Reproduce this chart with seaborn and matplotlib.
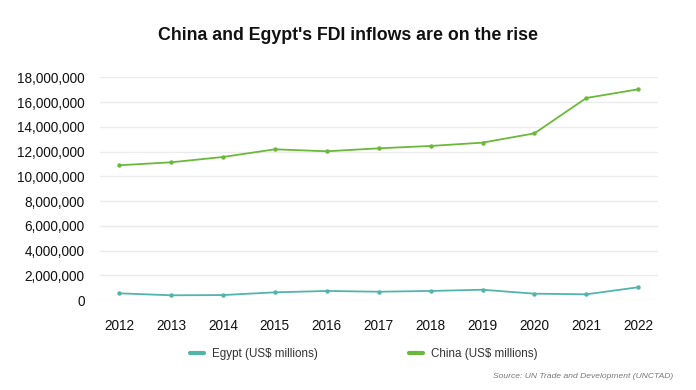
import matplotlib
matplotlib.use("Agg")
import matplotlib.pyplot as plt
import seaborn as sns
import pandas as pd
from matplotlib.ticker import FuncFormatter, MultipleLocator
from matplotlib.lines import Line2D

years = [2012, 2013, 2014, 2015, 2016, 2017, 2018, 2019, 2020, 2021, 2022]
egypt = [540000, 380000, 400000, 620000, 730000, 670000, 730000, 830000, 510000, 460000, 1030000]
china = [10890000, 11130000, 11560000, 12180000, 12020000, 12260000, 12450000, 12720000, 13470000, 16330000, 17030000]
series_names = ["Egypt (US$ millions)", "China (US$ millions)"]
title = "China and Egypt's FDI inflows are on the rise"
source = "Source: UN Trade and Development (UNCTAD)"

df = pd.DataFrame({
    "year": years * 2,
    "value": egypt + china,
    "series": [series_names[0]] * len(years) + [series_names[1]] * len(years),
})

sns.set_theme(style="white")
plt.rcParams["font.family"] = ["Liberation Sans", "DejaVu Sans"]

fig = plt.figure(figsize=(6.96, 3.90), dpi=100)
ax = fig.add_axes([100 / 696, 1 - 300 / 390, 558 / 696, (300 - 77.3) / 390])

palette = {series_names[0]: "#52b5aa", series_names[1]: "#6ab93a"}
sns.lineplot(data=df, x="year", y="value", hue="series", palette=palette,
             marker="o", markersize=3.2, markeredgewidth=0, linewidth=1.3,
             ax=ax, legend=False, zorder=3)

ax.set_xlim(2011.63, 2022.38)
ax.set_ylim(0, 18000000)
ax.yaxis.set_major_locator(MultipleLocator(2000000))
ax.set_xticks(years)
ax.yaxis.set_major_formatter(FuncFormatter(lambda v, p: f"{int(v):,}"))
ax.grid(axis="y", color="#ebebeb", linewidth=1)
ax.grid(axis="x", visible=False)
for s in ax.spines.values():
    s.set_visible(False)
ax.set_xlabel("")
ax.set_ylabel("")
ax.tick_params(axis="y", length=0, pad=11, labelsize=9.8, labelcolor="#111111")
ax.tick_params(axis="x", length=0, pad=14, labelsize=9.8, labelcolor="#111111")

fig.text(0.5, 1 - 35 / 390, title, ha="center", va="center",
         fontsize=12.8, fontweight="bold", color="#111111")

handles = [Line2D([], [], color=palette[n], linewidth=3, solid_capstyle="round") for n in series_names]
fig.legend(handles, series_names, loc="center left", bbox_to_anchor=(190 / 696, 1 - 354 / 390),
           ncol=2, frameon=False, fontsize=8.4, handlelength=1.18, handletextpad=0.68,
           columnspacing=7.85, borderpad=0, borderaxespad=0, labelcolor="#333333")

fig.text(673 / 696, 1 - 377 / 390, source, ha="right", va="center",
         fontsize=6.1, style="italic", color="#777777")

fig.savefig("out.png", dpi=100)
